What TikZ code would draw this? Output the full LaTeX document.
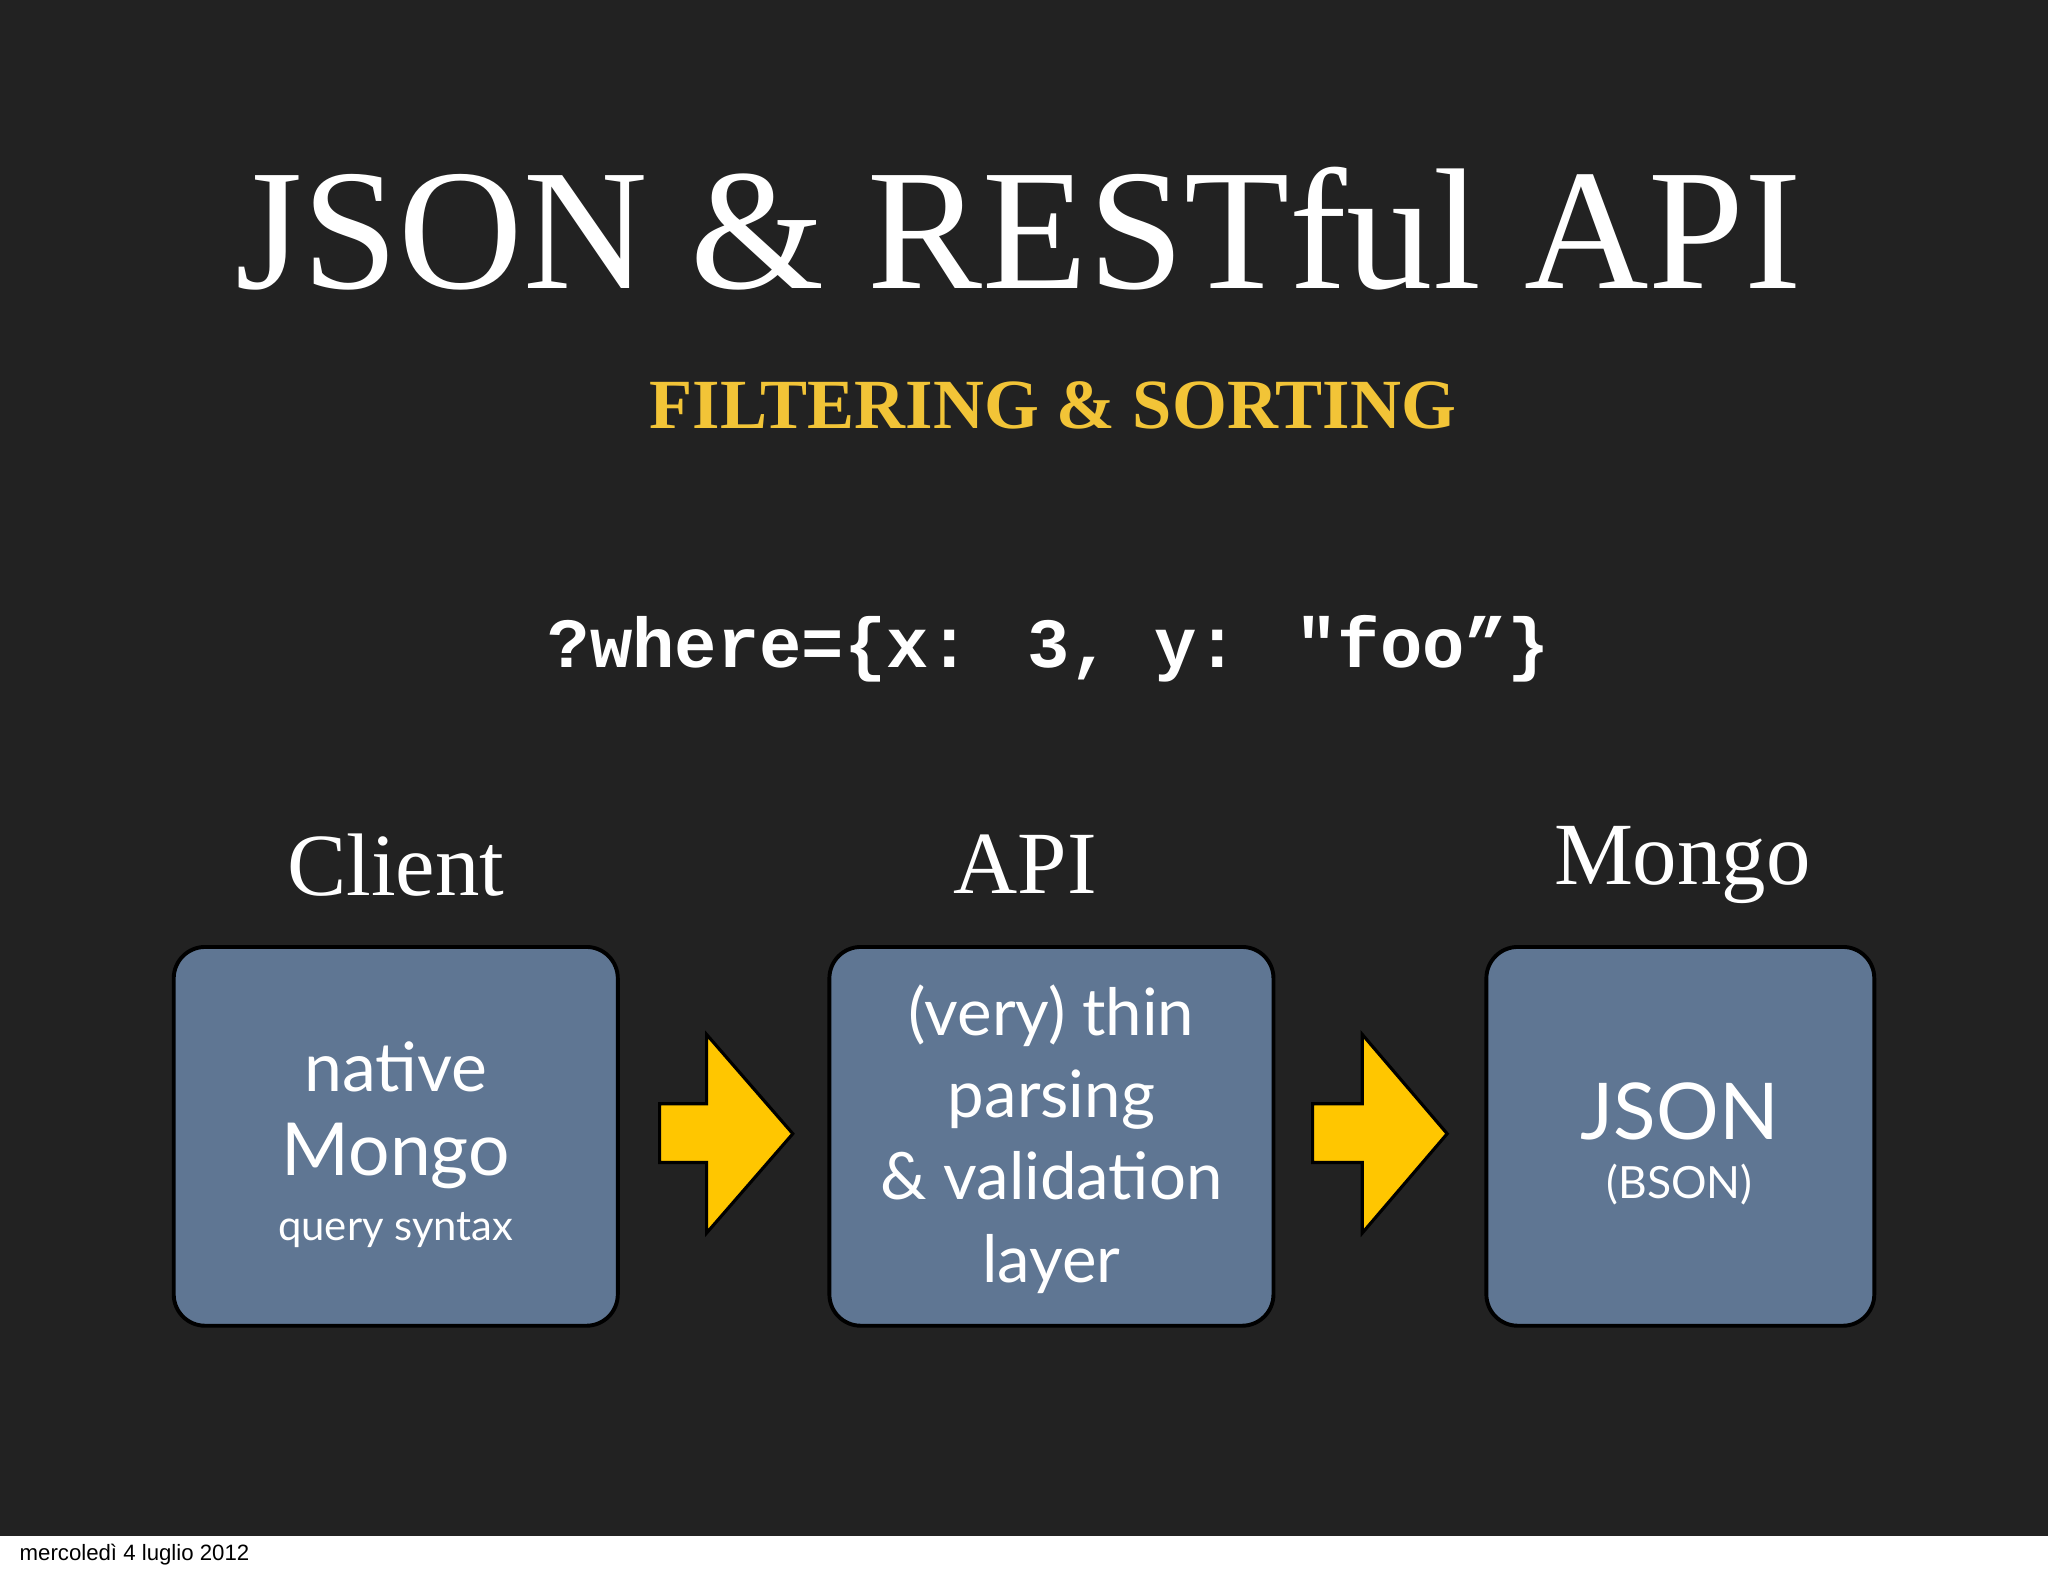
\documentclass[tikz,border=0pt]{standalone}
\usepackage{fontspec}
\setmainfont{Liberation Serif}
\newfontfamily\gill{Lato}
\newfontfamily\mono{Liberation Mono}
\newfontfamily\foot{Liberation Sans}
\definecolor{bg}{HTML}{222222}
\definecolor{boxc}{HTML}{5F7693}
\definecolor{arr}{HTML}{FFC600}
\definecolor{sub}{HTML}{F2C437}
\begin{document}
\begin{tikzpicture}[x=0.5pt,y=-0.5pt,
  panel/.style={draw=black,line width=1.5pt,fill=boxc,rounded corners=12pt},
  ptext/.style={text=white,font=\gill,align=center},
  head/.style={text=white,font=\fontsize{34}{40}\selectfont},
  yarrow/.style={draw=black,line width=1.2pt,fill=arr}]
\fill[white] (0,0) rectangle (1568,1206);
\fill[bg] (0,0) rectangle (1568,1176);
\useasboundingbox (0,0) rectangle (1568,1206);
\node[text=white,font=\fontsize{66}{70}\selectfont] (title) at (780,175) {JSON \& RESTful API};
\node[text=sub,font=\bfseries\fontsize{27}{30}\selectfont] (sub) at (806,310) {FILTERING \& SORTING};
\node[text=white,font=\mono\bfseries\fontsize{27}{30}\selectfont] (code) at (803,497) {?where=\{x: 3, y: "foo”\}};
\node[head] (hc) at (303,662) {Client};
\node[head] (ha) at (785,662) {API};
\node[head] (hm) at (1288,662) {Mongo};
\draw[panel] (133,725) rectangle (473,1015);
\draw[panel] (635,725) rectangle (975,1015);
\draw[panel] (1138,725) rectangle (1435,1015);
\node[ptext,font=\gill\fontsize{26}{34}\selectfont] (c1) at (303,817) {native};
\node[ptext,font=\gill\fontsize{28}{34}\selectfont] (c2) at (303,885) {Mongo};
\node[ptext,font=\gill\fontsize{16}{20}\selectfont] (c3) at (303,942) {query syntax};
\node[ptext,font=\gill\fontsize{25}{31.5}\selectfont] (a1) at (805,872) {(very) thin\\parsing\\\& validation\\layer};
\node[ptext,font=\gill\fontsize{30}{34}\selectfont] (m1) at (1286,851) {JSON};
\node[ptext,font=\gill\fontsize{17}{20}\selectfont] (m2) at (1286,907) {(BSON)};
\draw[yarrow] (505,845) -- (541,845) -- (541,792) -- (607,868) -- (541,944) -- (541,890) -- (505,890) -- cycle;
\draw[yarrow] (1005,845) -- (1043,845) -- (1043,792) -- (1108,868) -- (1043,944) -- (1043,890) -- (1005,890) -- cycle;
\node[anchor=west,font=\foot\fontsize{8.5}{10}\selectfont] (ft) at (8,1190) {mercoledì 4 luglio 2012};
\end{tikzpicture}
\end{document}
